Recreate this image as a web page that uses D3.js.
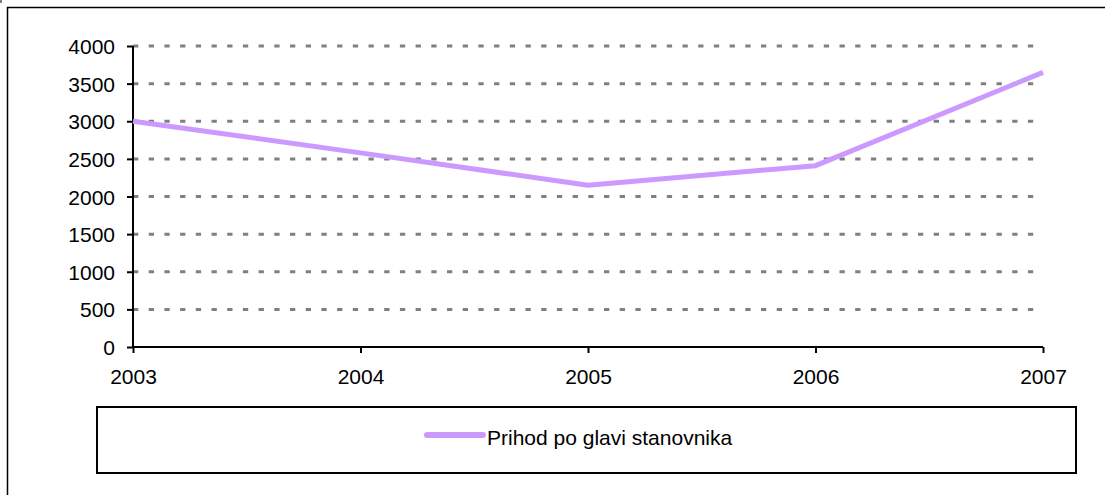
<!DOCTYPE html>
<html>
<head>
<meta charset="utf-8">
<script src="https://cdn.jsdelivr.net/npm/d3@7"></script>
<style>
  body { margin: 0; background: #fff; }
  svg { display: block; font-family: "Liberation Sans", Arial, sans-serif; }
</style>
</head>
<body>
<svg id="chart" width="1105" height="495"></svg>
<script>
// Chart data
const years = ["2003", "2004", "2005", "2006", "2007"];
const values = [3000, 2580, 2150, 2410, 3650];
const yTicks = [0, 500, 1000, 1500, 2000, 2500, 3000, 3500, 4000];
const seriesName = "Prihod po glavi stanovnika";

const svg = d3.select("#chart");

// Plot area bounds
const plot = { left: 133, right: 1043, top: 46, bottom: 347 };
const fontSize = "21px";

// Outer chart border
svg.append("rect")
    .attr("x", 7.5).attr("y", 7.5)
    .attr("width", 1110).attr("height", 500)
    .attr("fill", "none").attr("stroke", "#000").attr("stroke-width", 1.5);

// small mark at top-left corner
svg.append("line")
    .attr("x1", 1).attr("x2", 1).attr("y1", 0).attr("y2", 3)
    .attr("stroke", "#000").attr("stroke-width", 1);

const xScale = d3.scalePoint().domain(years).range([plot.left, plot.right]);
const yScale = d3.scaleLinear().domain([0, 4000]).range([plot.bottom, plot.top]);

// Gridlines (dashed gray)
svg.append("g")
    .selectAll("line")
    .data(yTicks.filter(d => d > 0))
    .enter().append("line")
    .attr("x1", plot.left).attr("x2", plot.right)
    .attr("y1", d => yScale(d)).attr("y2", d => yScale(d))
    .attr("stroke", "#808080")
    .attr("stroke-width", 3)
    .attr("stroke-dasharray", "5.3,10.4");

// Y axis
const yAxis = svg.append("g")
    .attr("transform", `translate(${plot.left},0)`)
    .call(d3.axisLeft(yScale).tickValues(yTicks).tickFormat(d3.format("d")).tickSize(6).tickPadding(10));

// X axis
const xAxis = svg.append("g")
    .attr("transform", `translate(0,${plot.bottom})`)
    .call(d3.axisBottom(xScale).tickSize(6).tickPadding(10));

[yAxis, xAxis].forEach(ax => {
    ax.attr("font-size", null).attr("font-family", null);
    ax.select(".domain").attr("stroke", "#000").attr("stroke-width", 2);
    ax.selectAll(".tick line").attr("stroke", "#000").attr("stroke-width", 2);
    ax.selectAll(".tick text")
        .attr("fill", "#000")
        .attr("font-family", "'Liberation Sans', Arial, sans-serif")
        .attr("font-size", fontSize);
});
yAxis.select(".domain").attr("d", `M0,${plot.bottom}V${plot.top}`);
xAxis.select(".domain").attr("d", `M${plot.left},0H${plot.right}`);
yAxis.selectAll(".tick text").attr("x", -18).attr("dy", "0.36em");
xAxis.selectAll(".tick text").attr("y", 0).attr("dy", 37);

// Series line
const line = d3.line()
    .x((d, i) => xScale(years[i]))
    .y(d => yScale(d));

svg.append("path")
    .datum(values)
    .attr("fill", "none")
    .attr("stroke", "#cc99ff")
    .attr("stroke-width", 5)
    .attr("stroke-linejoin", "round")
    .attr("d", line);

// Legend
const legend = svg.append("g");
legend.append("rect")
    .attr("x", 97).attr("y", 407)
    .attr("width", 979).attr("height", 66)
    .attr("fill", "#fff").attr("stroke", "#000").attr("stroke-width", 2);
legend.append("line")
    .attr("x1", 427).attr("x2", 483)
    .attr("y1", 435).attr("y2", 435)
    .attr("stroke", "#cc99ff").attr("stroke-width", 6)
    .attr("stroke-linecap", "round");
legend.append("text")
    .attr("x", 487).attr("y", 445)
    .attr("font-size", fontSize)
    .attr("fill", "#000")
    .text(seriesName);
</script>
</body>
</html>
